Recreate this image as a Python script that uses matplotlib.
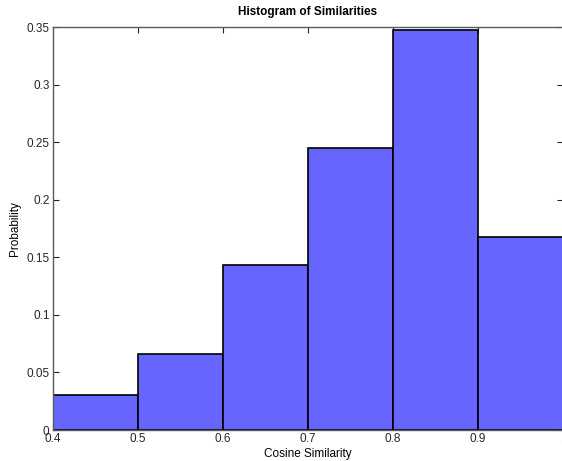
import matplotlib
matplotlib.use('Agg')
import matplotlib.pyplot as plt
import numpy as np

plt.rcParams['font.family'] = ['Liberation Sans', 'DejaVu Sans']

# histogram bins and normalized counts
bin_edges = [0.4, 0.5, 0.6, 0.7, 0.8, 0.9, 1.0]
probability = [0.030, 0.066, 0.143, 0.245, 0.347, 0.168]
xticks = [0.4, 0.5, 0.6, 0.7, 0.8, 0.9, 1.0]
xtick_labels = ['0.4', '0.5', '0.6', '0.7', '0.8', '0.9', '1']
yticks = [0, 0.05, 0.1, 0.15, 0.2, 0.25, 0.3, 0.35]
ytick_labels = ['0', '0.05', '0.1', '0.15', '0.2', '0.25', '0.3', '0.35']

fig = plt.figure(figsize=(5.62, 4.61), dpi=100)
ax = fig.add_axes([0.0943, 0.0672, 0.9075, 0.8742])

widths = np.diff(bin_edges)
ax.bar(bin_edges[:-1], probability, width=widths, align='edge',
       color='#6666ff', edgecolor='black', linewidth=1.2, zorder=2)

ax.set_xlim(0.4, 1.0)
ax.set_ylim(0, 0.35)
ax.set_xticks(xticks)
ax.set_xticklabels(xtick_labels)
ax.set_yticks(yticks)
ax.set_yticklabels(ytick_labels)
ax.tick_params(direction='in', top=True, right=True, labelsize=8.5,
               length=4, width=0.8, color='#262626', labelcolor='#262626', pad=2.5)
for s in ax.spines.values():
    s.set_color('#5a5a5a')
    s.set_linewidth(1.0)
    s.set_zorder(3)

ax.set_title('Histogram of Similarities', fontsize=8.5, fontweight='bold', pad=9)
ax.set_xlabel('Cosine Similarity', fontsize=8.5, labelpad=1.5)
ax.set_ylabel('Probability', fontsize=8.5, labelpad=4)

fig.savefig('out.png', dpi=100)
